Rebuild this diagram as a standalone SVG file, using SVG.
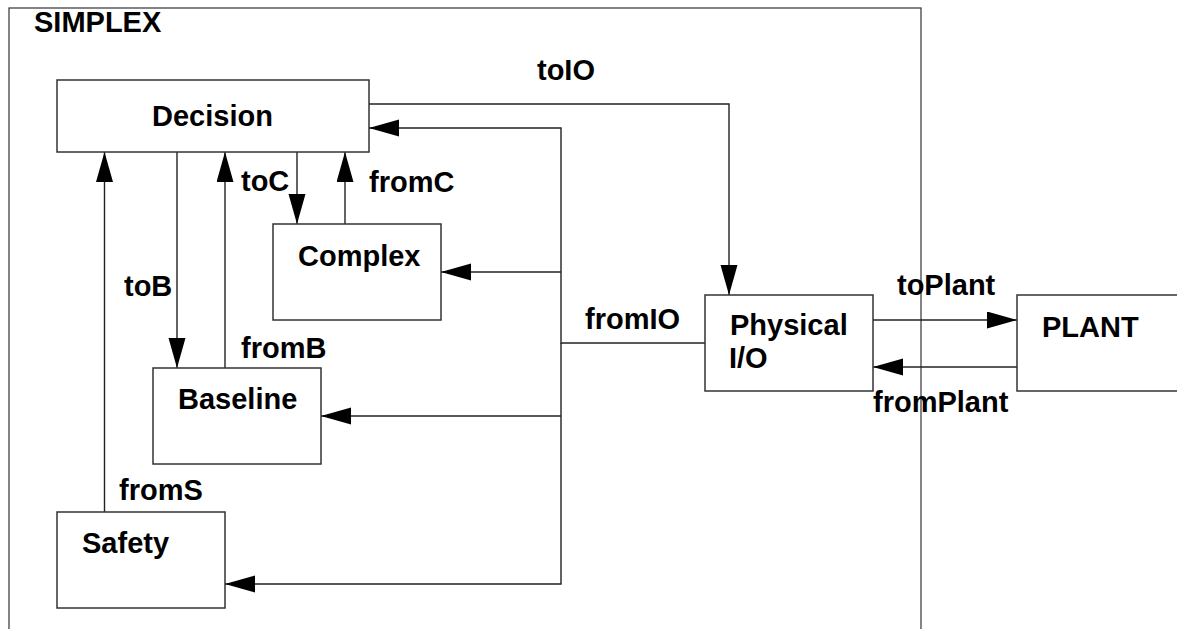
<svg xmlns="http://www.w3.org/2000/svg" width="1177" height="629" viewBox="0 0 1177 629">
<defs>
<marker id="ah" markerUnits="userSpaceOnUse" markerWidth="31" markerHeight="18" refX="30" refY="8.5" orient="auto">
<path d="M0,0 L30,8.5 L0,17 z" fill="#000"/>
</marker>
<style>
.box{fill:#fff;stroke:#333;stroke-width:1.5}
.frame{fill:none;stroke:#333;stroke-width:1.2}
.ln{fill:none;stroke:#222;stroke-width:1.4}
.ar{marker-end:url(#ah)}
text{font-family:"Liberation Sans",Arial,sans-serif;font-weight:bold;font-size:29px;fill:#000}
</style>
</defs>
<rect width="1177" height="629" fill="#fff"/>
<g id="simplex">
<rect class="frame" x="9" y="8" width="912" height="640"/>
<text x="34" y="32">SIMPLEX</text>
</g>
<g id="connectors">
<path class="ln ar" d="M369,104 H729 V295"/>
<path class="ln ar" d="M705,343 H561 V128 H369"/>
<path class="ln ar" d="M561,272 H441"/>
<path class="ln ar" d="M561,416 H321"/>
<path class="ln ar" d="M561,343 V584 H225"/>
<path class="ln ar" d="M297,152 V224"/>
<path class="ln ar" d="M345,224 V152"/>
<path class="ln ar" d="M177,152 V368"/>
<path class="ln ar" d="M225,368 V152"/>
<path class="ln ar" d="M104.5,512 V152"/>
<path class="ln ar" d="M873,320 H1017"/>
<path class="ln ar" d="M1017,367 H873"/>
<text x="537" y="80">toIO</text>
<text x="241" y="191">toC</text>
<text x="369" y="192">fromC</text>
<text x="124" y="296">toB</text>
<text x="241" y="358">fromB</text>
<text x="119" y="500">fromS</text>
<text x="585" y="329">fromIO</text>
<text x="897" y="295">toPlant</text>
<text x="873" y="412">fromPlant</text>
</g>
<g id="decision">
<rect class="box" x="57" y="80" width="312" height="72"/>
<text x="152" y="126">Decision</text>
</g>
<g id="complex">
<rect class="box" x="273" y="224" width="168" height="96"/>
<text x="298" y="266">Complex</text>
</g>
<g id="baseline">
<rect class="box" x="153" y="368" width="168" height="96"/>
<text x="178" y="409">Baseline</text>
</g>
<g id="safety">
<rect class="box" x="57" y="512" width="168" height="96"/>
<text x="82" y="553">Safety</text>
</g>
<g id="physical-io">
<rect class="box" x="705" y="295" width="168" height="96"/>
<text x="730" y="335">Physical</text>
<text x="729" y="368">I/O</text>
</g>
<g id="plant">
<rect class="box" x="1017" y="295" width="200" height="96"/>
<text x="1042" y="337">PLANT</text>
</g>
</svg>
